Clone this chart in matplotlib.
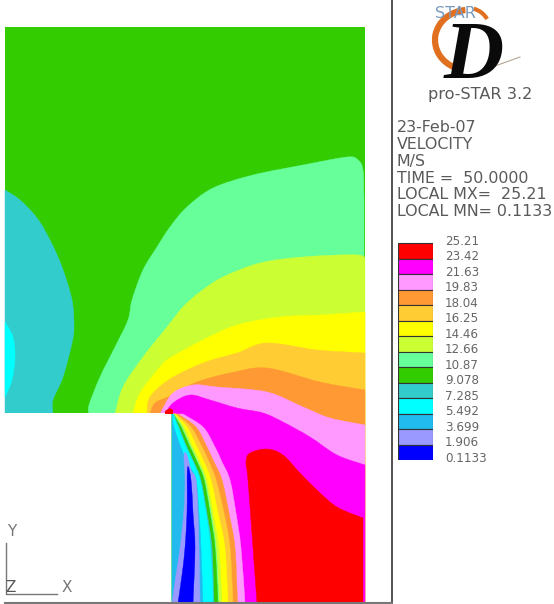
import matplotlib
matplotlib.use('Agg')
import matplotlib.pyplot as plt
from matplotlib.patches import Arc, PathPatch
from matplotlib.path import Path

# Legend
levels = ['25.21', '23.42', '21.63', '19.83', '18.04', '16.25', '14.46', '12.66',
          '10.87', '9.078', '7.285', '5.492', '3.699', '1.906', '0.1133']
colors = ['#ff0000', '#ff00ff', '#ff99ff', '#ff9933', '#ffcc33', '#ffff00', '#ccff33',
          '#66ff99', '#33cc00', '#33cccc', '#00ffff', '#22bbf0', '#9999ff', '#0000ff']
RED, MAGENTA, PINK, ORANGE, GOLD, YELLOW, YGREEN, MINT, GREEN, TEAL, CYAN, SKY, LAVENDER, BLUE = colors

info_lines = ['23-Feb-07', 'VELOCITY', 'M/S', 'TIME =  50.0000', 'LOCAL MX=  25.21', 'LOCAL MN= 0.1133']

# Contour boundaries (image pixels)
domain = [(5, 27), (365, 27), (365, 603), (5, 603)]
block = [(5, 413), (172, 413), (172, 603), (5, 603)]

teal_edge = [(5, 190), (20, 200), (37, 218), (50, 240), (62, 267), (72, 300), (74, 327),
             (72, 343), (63, 377), (53, 400), (53, 414)]
cyan_edge = [(5, 322), (13, 337), (15, 357), (12, 380), (5, 397)]

mint_top = [(89, 414), (89, 405), (100, 377), (115, 347), (128, 320), (132, 300), (143, 270),
            (157, 247), (170, 227), (187, 207), (213, 188), (253, 175), (303, 165), (347, 157),
            (358, 160), (363, 170), (364, 200)]
ygreen_top = [(115, 414), (123, 387), (143, 357), (167, 327), (183, 307), (200, 292), (223, 277),
              (260, 263), (303, 257), (358, 255), (365, 262)]
yellow_top = [(133, 414), (140, 393), (160, 367), (170, 358), (203, 340), (237, 325), (280, 317),
              (320, 315), (365, 312)]
gold_top = [(147, 414), (150, 397), (170, 379), (203, 363), (237, 353), (267, 343), (317, 350),
            (365, 353)]
orange_top = [(150, 414), (155, 403), (170, 396), (197, 382), (230, 373), (267, 368), (320, 382),
              (365, 390)]
pink_top = [(160, 414), (162, 410), (173, 393), (193, 385), (217, 387), (267, 392), (303, 407),
            (330, 418), (365, 425)]
magenta_top = [(165, 414), (173, 403), (190, 395), (210, 400), (237, 408), (263, 413), (283, 422),
               (310, 437), (337, 455), (365, 465)]
red_edge = [(257, 603), (253, 548), (248, 480), (246, 462), (250, 453), (267, 449), (283, 455),
            (300, 473), (317, 490), (337, 507), (363, 518)]
corner_spot = [(165, 411), (170, 408), (173, 410), (173, 414), (165, 414)]

# Wake bands behind the step: x of each band's outer edge at these heights
wake_y = [414, 427, 445, 462, 480, 513, 548, 603]
wake_pink = [183, 203, 214, 222, 230, 236, 241, 245]
wake_orange = [178, 196, 206, 214, 222, 229, 235, 237.5]
wake_gold = [176, 191, 201, 209, 216, 224, 230, 233]
wake_yellow = [175, 187, 196, 204, 211, 218, 225, 228]
wake_ygreen = [174, 184, 192, 200, 207, 213, 219, 222]
wake_mint = [174, 182, 190, 198, 205, 211, 216, 219]
wake_green = [173, 181, 189, 197, 204, 210, 215, 218]
wake_teal = [173, 179, 186, 194, 201, 207, 212, 214]
wake_cyan = [173, 178, 185, 193, 200, 206, 210.5, 213]
wake_sky = [172, 174, 180, 187, 196, 199, 201, 203]
wake_lavender = [(172, 603), (176, 575), (180, 548), (184, 510), (185, 480), (184, 455), (187, 455),
                 (191, 470), (196, 480), (198, 513), (199, 548), (200, 603)]
wake_blue = [(178, 603), (182, 575), (185, 548), (187, 513), (187.5, 468), (191, 480), (193, 513),
             (195, 548), (193, 603)]

fig = plt.figure(figsize=(5.54, 6.04), dpi=100)
ax = fig.add_axes([0, 0, 1, 1])
ax.set_xlim(0, 554)
ax.set_ylim(604, 0)
ax.axis('off')


def fill(edge, color, closing=()):
    # smooth curve through the read points, straight closure back to the start
    verts = [edge[0]]
    codes = [Path.MOVETO]
    n = len(edge)
    for i in range(n - 1):
        p0, p1, p2, p3 = edge[max(i - 1, 0)], edge[i], edge[i + 1], edge[min(i + 2, n - 1)]
        verts.append((p1[0] + (p2[0] - p0[0]) / 6, p1[1] + (p2[1] - p0[1]) / 6))
        verts.append((p2[0] - (p3[0] - p1[0]) / 6, p2[1] - (p3[1] - p1[1]) / 6))
        verts.append(p2)
        codes += [Path.CURVE4] * 3
    for p in closing:
        verts.append(p)
        codes.append(Path.LINETO)
    verts.append(edge[0])
    codes.append(Path.CLOSEPOLY)
    ax.add_patch(PathPatch(Path(verts, codes), facecolor=color, edgecolor=color, lw=0.3))


ax.fill([p[0] for p in domain], [p[1] for p in domain], color=GREEN, lw=0)
fill(teal_edge, TEAL, [(5, 414)])
fill(cyan_edge, CYAN)
fill(mint_top, MINT, [(364, 603), (89, 603)])
fill(ygreen_top, YGREEN, [(365, 603), (115, 603)])
fill(yellow_top, YELLOW, [(365, 603), (133, 603)])
fill(gold_top, GOLD, [(365, 603), (147, 603)])
fill(orange_top, ORANGE, [(365, 603), (150, 603)])
fill(pink_top, PINK, [(365, 603), (160, 603)])
fill(magenta_top, MAGENTA, [(365, 603), (165, 603)])
ax.fill([p[0] for p in block], [p[1] for p in block], color='white', lw=0)

for xs, c in [(wake_pink, PINK), (wake_orange, ORANGE), (wake_gold, GOLD), (wake_yellow, YELLOW),
              (wake_ygreen, YGREEN), (wake_mint, MINT), (wake_green, GREEN), (wake_teal, TEAL),
              (wake_cyan, CYAN), (wake_sky, SKY)]:
    fill(list(zip(xs, wake_y)), c, [(172, 603), (172, 414)])
fill(wake_lavender, LAVENDER)
fill(wake_blue, BLUE)
fill(red_edge, RED, [(363, 603)])
ax.fill([p[0] for p in corner_spot], [p[1] for p in corner_spot], color=RED, lw=0)

# Frame lines
ax.plot([392, 392], [0, 604], color='#444444', lw=1.3)
ax.plot([5, 392], [603, 603], color='#777777', lw=1.5)

# Coordinate triad
ax.plot([6, 6, 57], [543, 594, 594], color='#777777', lw=1)
ax.text(12, 532, 'Y', color='#777777', fontsize=11, ha='center', va='center')
ax.text(11, 588, 'Z', color='#555555', fontsize=11, ha='center', va='center')
ax.text(67, 587, 'X', color='#777777', fontsize=11, ha='center', va='center')

# Logo
ax.add_patch(Arc((468, 40), 66, 60, theta1=115, theta2=265, color='#e07020', lw=4.5))
ax.add_patch(Arc((468, 30), 44, 44, theta1=-75, theta2=-30, color='#e07020', lw=3))
ax.plot([495, 520], [66, 57], color='#aa9988', lw=0.7)
ax.text(474, 58, 'D', family='Liberation Serif', style='italic', weight='bold', fontsize=60, color='#0a0a0a',
        ha='center', va='center')
ax.text(455, 13, 'STAR', color='#7a9bbf', fontsize=11.5, ha='center', va='center')
ax.text(480, 94, 'pro-STAR 3.2', color='#5a5a5a', fontsize=11.6, ha='center', va='center')

for i, line in enumerate(info_lines):
    ax.text(397, 128 + i * 16.7, line, color='#5a5a5a', fontsize=11.4, va='center')

# Legend bar
W, H = 554, 604
step = 217 / 14
leg = fig.add_axes([398 / W, 1 - 460 / H, 35 / W, 14.5 * step / H])
leg.bar([0] * 14, [1] * 14, bottom=range(13, -1, -1), width=1, color=colors, edgecolor='#333333', lw=0.8)
leg.set_xlim(-0.5, 0.5)
leg.set_ylim(0, 14.5)
leg.set_xticks([])
leg.set_yticks([i + 0.22 for i in range(14, -1, -1)], levels)
leg.yaxis.tick_right()
leg.tick_params(axis='y', length=0, pad=8.5, labelsize=8.6, labelcolor='#666666')
for s in leg.spines.values():
    s.set_visible(False)

fig.savefig('out.png', dpi=100)
